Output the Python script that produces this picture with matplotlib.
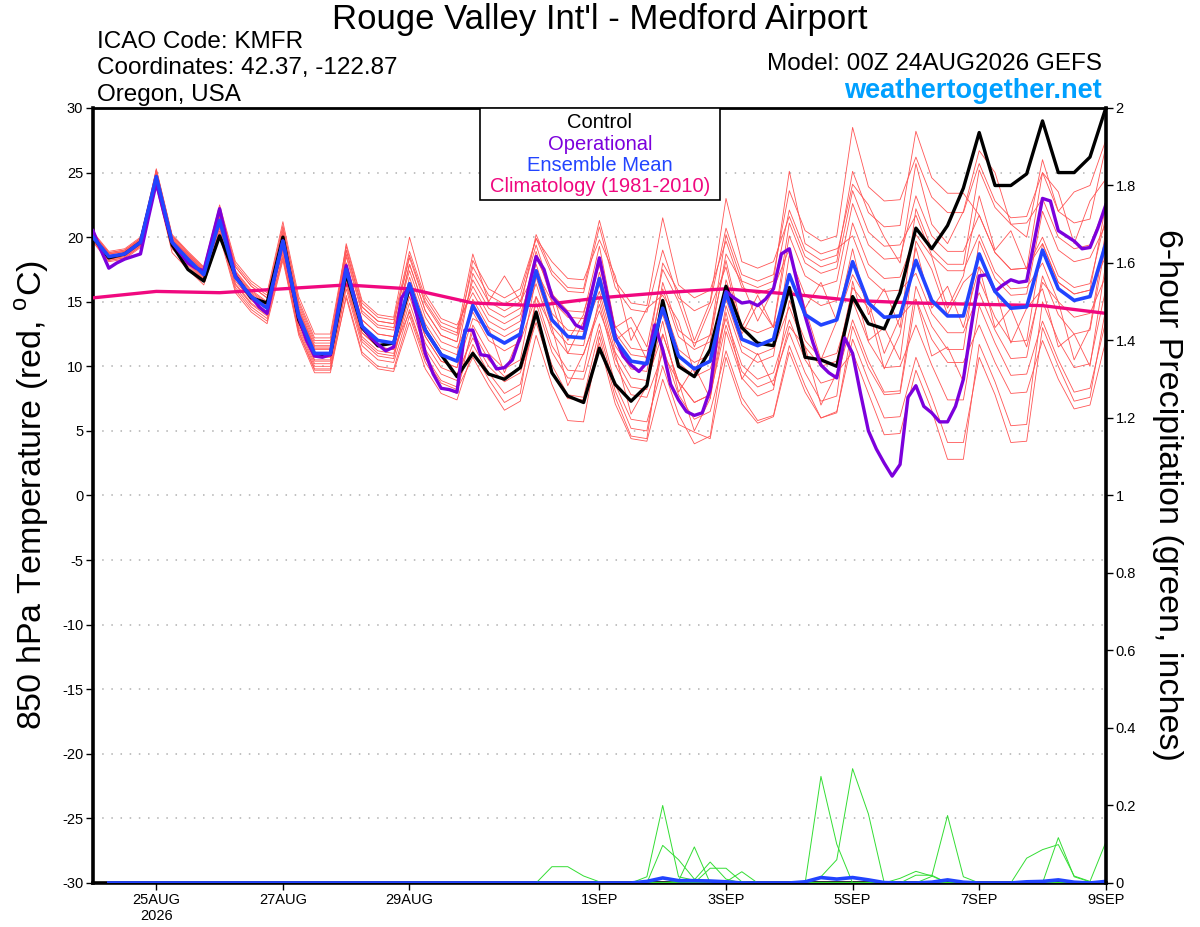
import matplotlib
matplotlib.use("Agg")
import matplotlib.pyplot as plt
from matplotlib.patches import Rectangle
import numpy as np

plt.rcParams['font.family'] = ['Liberation Sans', 'DejaVu Sans']
plt.rcParams['axes.unicode_minus'] = False

# forecast hours from 00Z 24AUG2026
hours = np.arange(0, 385, 6)
hours_oper = np.arange(0, 385, 3)
hours_clim = np.arange(0, 385, 24)
hours_precip = np.arange(6, 385, 6)

tick_hours = [24, 72, 120, 192, 240, 288, 336, 384]
tick_labels = ["25AUG\n2026", "27AUG", "29AUG", "1SEP", "3SEP", "5SEP", "7SEP", "9SEP"]

control = [20.0, 18.4, 18.7, 19.6, 24.5, 19.4, 17.5, 16.6, 20.1, 17.0, 15.3, 14.9,
           20.0, 13.6, 10.9, 10.9, 17.2, 13.0, 11.6, 11.8, 16.1, 12.8, 10.9, 9.2,
           11.0, 9.4, 9.0, 9.9, 14.2, 9.5, 7.7, 7.2, 11.4, 8.6, 7.3, 8.5,
           15.1, 10.0, 9.2, 11.3, 16.2, 13.0, 11.8, 11.6, 16.1, 10.7, 10.5, 10.0,
           15.4, 13.3, 12.9, 15.7, 20.7, 19.1, 20.9, 23.8, 28.1, 24.0, 24.0, 24.9,
           29.0, 25.0, 25.0, 26.2, 30.0]

ens_mean = [20.0, 18.5, 18.7, 19.6, 24.7, 19.6, 18.3, 17.1, 21.3, 16.9, 15.4, 14.5,
            19.7, 13.9, 11.0, 11.0, 17.5, 13.1, 12.0, 11.8, 16.4, 12.8, 10.9, 10.4,
            14.7, 12.5, 11.8, 12.5, 17.4, 13.6, 12.3, 12.2, 16.8, 12.1, 10.4, 10.2,
            14.5, 10.8, 9.8, 10.4, 15.7, 12.1, 11.6, 12.1, 17.1, 14.0, 13.2, 13.6,
            18.1, 14.9, 13.8, 13.9, 18.2, 15.1, 13.9, 13.9, 18.7, 15.8, 14.5, 14.6,
            19.0, 16.0, 15.1, 15.4, 19.5]

operational = [20.5, 19.0, 17.6, 18.0, 18.3, 18.5, 18.7, 21.5,
               24.2, 21.8, 19.6, 18.8, 18.0, 17.6, 17.4, 19.8,
               22.2, 19.5, 17.0, 16.1, 15.4, 14.6, 14.1, 17.0,
               19.7, 16.7, 13.8, 12.0, 10.8, 10.7, 10.9, 14.5,
               17.8, 15.4, 13.1, 12.3, 11.7, 11.2, 11.5, 15.3,
               16.2, 13.8, 11.0, 9.4, 8.3, 8.2, 8.0, 12.8,
               12.8, 10.9, 10.8, 9.8, 9.9, 10.5, 12.3, 15.9,
               18.5, 17.5, 15.4, 14.7, 14.1, 13.2, 12.9, 15.7,
               18.4, 15.5, 12.3, 10.8, 10.1, 9.6, 10.3, 13.2,
               11.3, 8.6, 7.4, 6.5, 6.2, 6.4, 8.2, 13.1,
               15.8, 15.3, 14.9, 15.0, 14.7, 15.2, 16.0, 18.7,
               19.1, 16.5, 13.9, 11.8, 10.1, 9.5, 9.1, 12.2,
               11.0, 7.9, 5.0, 3.6, 2.5, 1.5, 2.4, 7.6,
               8.5, 6.9, 6.4, 5.7, 5.7, 6.9, 9.0, 13.1,
               17.0, 17.1, 15.8, 16.3, 16.7, 16.5, 16.6, 19.8,
               23.0, 22.8, 20.5, 20.1, 19.7, 19.1, 19.2, 20.7,
               22.5]

climatology = [15.3, 15.8, 15.7, 16.0, 16.3, 16.0, 14.9, 14.7, 15.3,
               15.7, 16.0, 15.6, 15.1, 14.9, 14.8, 14.7, 14.1]

# ensemble members, 850 hPa temperature
member_01 = [20.3, 18.8, 19.0, 19.9, 25.2, 20.1, 18.8, 17.6, 22.3, 17.9, 16.4, 15.5,
             20.9, 15.1, 12.2, 12.2, 19.0, 14.6, 13.5, 13.3, 18.4, 14.8, 12.9, 12.4,
             17.7, 15.5, 14.8, 15.5, 19.9, 17.1, 15.8, 15.7, 20.8, 16.1, 14.4, 14.2,
             19.0, 15.3, 14.3, 14.9, 20.7, 17.1, 16.6, 17.1, 23.6, 20.5, 19.7, 20.1,
             28.5, 23.9, 22.8, 22.9, 26.2, 23.1, 21.9, 21.9, 25.7, 22.8, 21.5, 21.6,
             25.0, 22.0, 21.1, 21.4, 27.0]
member_02 = [19.8, 18.3, 18.5, 19.4, 25.0, 19.9, 18.6, 17.4, 21.8, 17.4, 15.9, 15.0,
             19.2, 13.4, 10.5, 10.5, 18.5, 14.1, 13.0, 12.8, 17.9, 14.3, 12.4, 11.9,
             16.7, 14.5, 13.8, 14.5, 20.2, 17.4, 16.1, 16.0, 21.3, 16.6, 14.9, 14.7,
             21.5, 16.3, 15.3, 15.9, 19.7, 16.1, 15.6, 16.1, 22.1, 19.0, 18.2, 18.6,
             24.1, 22.5, 20.0, 18.0, 25.7, 21.0, 19.5, 22.0, 26.7, 25.0, 21.0, 20.0,
             26.0, 22.0, 23.5, 24.0, 27.5]
member_03 = [20.1, 18.6, 18.8, 19.7, 24.4, 19.3, 18.0, 16.8, 20.5, 16.1, 14.6, 13.7,
             18.7, 12.9, 10.0, 10.0, 16.0, 11.6, 10.5, 10.3, 14.4, 10.8, 8.9, 8.4,
             11.7, 9.5, 7.9, 8.6, 13.9, 10.1, 7.8, 7.6, 12.8, 8.1, 5.2, 5.0,
             11.5, 7.8, 5.9, 6.5, 11.2, 7.6, 5.8, 6.2, 11.6, 8.5, 6.0, 6.5,
             12.1, 8.9, 6.0, 6.1, 10.7, 7.6, 4.1, 4.1, 10.7, 7.8, 4.1, 4.2,
             13.0, 10.0, 7.3, 7.6, 14.5]
member_04 = [19.7, 18.2, 18.4, 19.3, 24.2, 19.1, 17.8, 16.6, 21.6, 17.2, 15.7, 14.8,
             20.5, 14.7, 11.8, 11.8, 18.0, 13.6, 12.5, 12.3, 15.9, 12.3, 10.4, 9.9,
             13.7, 13.0, 9.5, 12.5, 18.4, 15.8, 12.0, 14.0, 19.3, 13.0, 13.8, 11.5,
             17.5, 15.0, 11.5, 14.5, 17.7, 12.5, 14.8, 13.0, 20.1, 17.0, 16.2, 16.6,
             22.6, 19.4, 18.3, 18.4, 23.2, 20.1, 18.9, 18.9, 21.7, 18.8, 17.5, 17.6,
             20.0, 17.0, 16.1, 16.4, 21.5]
member_05 = [20.2, 18.7, 18.9, 19.8, 24.9, 19.8, 18.5, 17.3, 21.0, 16.6, 15.1, 14.2,
             19.1, 13.3, 10.4, 10.4, 16.5, 12.1, 11.0, 10.8, 14.9, 11.3, 9.4, 8.9,
             12.7, 10.5, 9.2, 9.9, 14.9, 11.1, 9.1, 9.0, 13.3, 8.6, 5.9, 5.7,
             10.0, 6.3, 4.0, 4.6, 12.7, 9.1, 7.7, 8.2, 15.1, 12.0, 10.6, 11.0,
             15.1, 11.9, 9.9, 10.0, 13.2, 10.1, 7.4, 7.4, 14.7, 11.8, 9.3, 9.4,
             13.5, 10.5, 8.0, 8.3, 13.5]
member_06 = [20.0, 18.5, 18.7, 19.6, 25.3, 20.2, 18.9, 17.7, 22.5, 18.1, 16.6, 15.7,
             21.2, 15.4, 12.5, 12.5, 19.3, 14.9, 13.8, 13.6, 18.9, 15.3, 13.4, 12.9,
             16.2, 14.0, 13.3, 14.0, 17.9, 14.1, 12.8, 12.7, 15.8, 11.1, 9.1, 8.9,
             12.5, 8.8, 7.2, 7.8, 14.7, 11.1, 10.3, 10.8, 18.6, 15.5, 14.7, 15.1,
             21.1, 17.9, 16.8, 16.9, 20.2, 18.5, 14.5, 17.0, 23.2, 19.0, 20.5, 17.5,
             25.0, 23.5, 19.5, 22.8, 24.5]
member_07 = [19.6, 18.1, 18.3, 19.2, 23.9, 18.8, 17.5, 16.3, 20.1, 15.7, 14.2, 13.3,
             18.2, 12.4, 9.5, 9.5, 15.5, 11.1, 10.0, 9.8, 13.9, 10.3, 8.4, 7.9,
             13.2, 11.0, 9.8, 10.5, 16.9, 13.1, 11.7, 11.6, 17.3, 12.6, 10.9, 10.7,
             16.0, 12.3, 11.3, 11.9, 18.7, 16.5, 13.5, 16.0, 19.1, 14.5, 16.5, 13.5,
             17.1, 15.0, 11.0, 13.8, 15.2, 10.8, 11.5, 8.8, 16.7, 13.8, 11.9, 12.0,
             19.5, 16.5, 15.6, 15.9, 22.5]
member_08 = [20.4, 18.9, 19.1, 20.0, 25.1, 20.0, 18.7, 17.5, 22.1, 17.7, 16.2, 15.3,
             20.0, 14.2, 11.3, 11.3, 17.0, 12.6, 11.5, 11.3, 16.9, 13.3, 11.4, 10.9,
             17.2, 15.0, 14.3, 15.0, 19.4, 15.6, 14.3, 14.2, 17.8, 13.1, 11.4, 11.2,
             14.0, 10.3, 9.2, 9.8, 13.7, 10.1, 9.0, 9.5, 13.6, 10.5, 8.7, 9.1,
             13.6, 10.4, 8.0, 8.1, 16.2, 13.1, 11.3, 11.3, 19.7, 16.8, 15.5, 15.6,
             22.0, 19.0, 18.1, 18.4, 21.0]
member_09 = [19.9, 18.4, 18.6, 19.5, 24.5, 19.4, 18.1, 16.9, 20.8, 16.4, 14.9, 14.0,
             20.2, 14.4, 11.5, 11.5, 18.7, 14.3, 13.2, 13.0, 17.4, 13.8, 11.9, 11.4,
             14.2, 12.0, 11.2, 11.9, 15.4, 13.0, 8.5, 11.0, 14.3, 11.0, 6.3, 8.5,
             13.5, 8.0, 10.0, 7.5, 16.7, 13.1, 12.6, 13.1, 21.1, 18.0, 17.2, 17.6,
             23.6, 20.4, 19.3, 19.4, 21.7, 18.6, 17.4, 17.4, 20.2, 17.3, 16.0, 16.1,
             18.0, 15.0, 13.8, 14.1, 17.0]
member_10 = [20.2, 18.7, 18.9, 19.8, 24.7, 19.6, 18.3, 17.1, 21.5, 17.1, 15.6, 14.7,
             19.4, 13.6, 10.7, 10.7, 16.7, 12.3, 11.2, 11.0, 15.4, 11.8, 9.9, 9.4,
             12.2, 10.0, 8.8, 9.5, 13.4, 9.6, 7.5, 7.4, 11.8, 7.1, 4.4, 4.2,
             9.0, 5.5, 4.9, 4.4, 10.7, 7.1, 5.6, 6.1, 11.1, 8.0, 6.0, 6.4,
             13.1, 9.9, 7.8, 7.9, 15.2, 12.1, 10.3, 10.3, 13.2, 10.3, 7.9, 8.0,
             12.0, 9.0, 6.7, 7.0, 12.0]
member_11 = [19.8, 18.3, 18.5, 19.4, 25.2, 20.1, 18.8, 17.6, 22.1, 17.7, 16.2, 15.3,
             20.7, 14.9, 12.0, 12.0, 18.0, 13.6, 12.5, 12.3, 17.9, 14.3, 12.4, 11.9,
             18.2, 16.0, 15.3, 16.0, 19.9, 18.1, 16.8, 16.7, 19.8, 17.0, 12.0, 14.5,
             15.5, 13.5, 9.5, 12.5, 18.2, 13.0, 15.5, 13.0, 16.1, 14.5, 10.5, 13.5,
             19.1, 14.0, 16.0, 13.0, 22.2, 19.1, 17.9, 17.9, 25.2, 22.3, 21.0, 21.1,
             23.0, 20.0, 19.1, 19.4, 22.5]
member_12 = [20.3, 18.8, 19.0, 19.9, 24.3, 19.2, 17.9, 16.7, 20.3, 15.9, 14.4, 13.5,
             18.4, 12.6, 9.7, 9.7, 16.3, 11.9, 10.8, 10.6, 15.9, 12.3, 10.4, 9.9,
             15.2, 13.0, 12.3, 13.0, 16.4, 12.6, 11.0, 10.9, 14.8, 10.1, 7.8, 7.6,
             11.0, 8.8, 5.0, 7.5, 14.2, 9.0, 11.0, 8.5, 13.1, 11.5, 7.0, 9.5,
             11.1, 7.9, 4.7, 4.8, 9.7, 6.6, 2.8, 2.8, 11.7, 8.8, 5.4, 5.5,
             15.0, 12.0, 9.9, 10.2, 16.0]
member_13 = [20.0, 18.5, 18.7, 19.6, 24.9, 19.8, 18.5, 17.3, 21.7, 17.3, 15.8, 14.9,
             20.3, 14.5, 11.6, 11.6, 19.5, 15.1, 14.0, 13.8, 20.0, 15.6, 13.7, 13.2,
             15.7, 13.5, 12.8, 13.5, 18.9, 15.1, 13.8, 13.7, 16.3, 11.6, 9.8, 9.6,
             16.5, 12.8, 11.8, 12.4, 20.2, 16.6, 16.1, 16.6, 25.1, 19.5, 18.7, 19.1,
             20.1, 16.9, 15.8, 15.9, 17.2, 14.1, 12.6, 12.6, 15.7, 12.8, 10.6, 10.7,
             17.0, 14.0, 12.5, 12.8, 19.5]
member_14 = [19.7, 18.2, 18.4, 19.3, 24.6, 19.5, 18.2, 17.0, 20.7, 16.3, 14.8, 13.9,
             18.5, 12.7, 9.8, 9.8, 15.3, 10.9, 9.8, 9.6, 13.4, 9.8, 7.9, 7.4,
             11.2, 9.0, 7.2, 7.9, 15.4, 11.6, 9.7, 9.6, 15.3, 10.6, 8.4, 8.2,
             15.0, 11.3, 10.3, 10.9, 15.2, 11.6, 10.9, 11.4, 14.6, 11.5, 10.0, 10.4,
             16.1, 14.5, 9.8, 12.5, 19.2, 14.5, 16.2, 13.0, 17.7, 16.0, 11.8, 14.5,
             16.0, 11.5, 12.5, 10.0, 18.0]
member_15 = [20.2, 18.7, 18.9, 19.8, 25.0, 19.9, 18.6, 17.4, 21.2, 16.8, 15.3, 14.4,
             18.9, 13.1, 10.2, 10.2, 17.0, 12.6, 11.5, 11.3, 14.2, 10.6, 8.7, 8.2,
             10.7, 8.5, 6.6, 7.3, 12.4, 8.6, 5.8, 5.7, 12.3, 7.6, 4.6, 4.4,
             12.5, 8.8, 7.2, 7.8, 13.2, 9.6, 8.4, 8.9, 12.6, 9.5, 7.3, 7.7,
             16.6, 12.0, 13.0, 10.5, 19.7, 17.5, 14.0, 16.5, 17.7, 13.0, 14.5, 11.5,
             16.5, 15.0, 10.5, 13.0, 20.5]
member_16 = [20.0, 18.5, 18.7, 19.6, 24.5, 19.4, 18.1, 16.9, 21.4, 17.0, 15.5, 14.6,
             20.1, 14.3, 11.4, 11.4, 19.0, 14.6, 13.5, 13.3, 18.6, 15.0, 13.1, 12.6,
             18.7, 15.0, 17.0, 15.0, 17.4, 15.0, 11.0, 13.5, 18.3, 12.0, 13.0, 10.5,
             18.0, 15.8, 12.0, 15.0, 23.0, 18.1, 17.6, 18.1, 21.6, 18.5, 17.7, 18.1,
             25.1, 21.9, 20.8, 20.9, 28.2, 24.6, 23.4, 23.4, 21.7, 18.8, 17.5, 17.6,
             19.5, 16.5, 15.6, 15.9, 18.5]

members = [member_01, member_02, member_03, member_04, member_05, member_06,
           member_07, member_08, member_09, member_10, member_11, member_12,
           member_13, member_14, member_15, member_16]

# 6-hour precipitation (inches), steps 06Z 24AUG .. 00Z 9SEP
precip_mean = [0, 0, 0, 0, 0, 0, 0, 0, 0, 0, 0, 0, 0, 0, 0, 0,
               0, 0, 0, 0, 0, 0, 0, 0, 0, 0, 0, 0, 0, 0, 0, 0,
               0, 0, 0.004, 0.013, 0.006, 0.006, 0.005, 0.003, 0, 0, 0, 0, 0.003, 0.014, 0.010, 0.014,
               0.008, 0.001, 0, 0, 0.002, 0.008, 0.002, 0, 0, 0, 0.003, 0.004, 0.008, 0.002, 0, 0.004]

precip_a = [0, 0, 0, 0, 0, 0, 0, 0, 0, 0, 0, 0, 0, 0, 0, 0,
            0, 0, 0, 0, 0, 0, 0, 0, 0, 0, 0, 0, 0.042, 0.042, 0.018, 0.003,
            0, 0, 0, 0, 0, 0, 0, 0, 0, 0, 0, 0, 0, 0, 0, 0,
            0, 0, 0, 0, 0, 0, 0, 0, 0, 0, 0, 0, 0, 0, 0, 0]
precip_b = [0, 0, 0, 0, 0, 0, 0, 0, 0, 0, 0, 0, 0, 0, 0, 0,
            0, 0, 0, 0, 0, 0, 0, 0, 0, 0, 0, 0, 0, 0, 0, 0,
            0, 0, 0.016, 0.200, 0.016, 0.007, 0, 0, 0, 0, 0, 0, 0, 0, 0, 0,
            0, 0, 0, 0, 0, 0, 0, 0, 0, 0, 0, 0, 0, 0, 0, 0]
precip_c = [0, 0, 0, 0, 0, 0, 0, 0, 0, 0, 0, 0, 0, 0, 0, 0,
            0, 0, 0, 0, 0, 0, 0, 0, 0, 0, 0, 0, 0, 0, 0, 0,
            0, 0, 0, 0.097, 0.060, 0.010, 0, 0, 0, 0, 0, 0, 0, 0, 0, 0,
            0, 0, 0, 0, 0, 0, 0, 0, 0, 0, 0, 0, 0, 0, 0, 0]
precip_d = [0, 0, 0, 0, 0, 0, 0, 0, 0, 0, 0, 0, 0, 0, 0, 0,
            0, 0, 0, 0, 0, 0, 0, 0, 0, 0, 0, 0, 0, 0, 0, 0,
            0, 0, 0, 0, 0.005, 0.093, 0, 0, 0, 0, 0, 0, 0, 0, 0, 0,
            0, 0, 0, 0, 0, 0, 0, 0, 0, 0, 0, 0, 0, 0, 0, 0]
precip_e = [0, 0, 0, 0, 0, 0, 0, 0, 0, 0, 0, 0, 0, 0, 0, 0,
            0, 0, 0, 0, 0, 0, 0, 0, 0, 0, 0, 0, 0, 0, 0, 0,
            0, 0, 0, 0, 0, 0.008, 0.054, 0.010, 0, 0, 0, 0, 0, 0, 0, 0,
            0, 0, 0, 0, 0, 0, 0, 0, 0, 0, 0, 0, 0, 0, 0, 0]
precip_f = [0, 0, 0, 0, 0, 0, 0, 0, 0, 0, 0, 0, 0, 0, 0, 0,
            0, 0, 0, 0, 0, 0, 0, 0, 0, 0, 0, 0, 0, 0, 0, 0,
            0, 0, 0, 0, 0, 0, 0.038, 0.038, 0.003, 0, 0, 0, 0, 0, 0, 0,
            0, 0, 0, 0, 0, 0, 0, 0, 0, 0, 0, 0, 0, 0, 0, 0]
precip_g = [0, 0, 0, 0, 0, 0, 0, 0, 0, 0, 0, 0, 0, 0, 0, 0,
            0, 0, 0, 0, 0, 0, 0, 0, 0, 0, 0, 0, 0, 0, 0, 0,
            0, 0, 0, 0, 0, 0, 0, 0.003, 0.029, 0, 0, 0, 0, 0, 0, 0,
            0, 0, 0, 0, 0, 0, 0, 0, 0, 0, 0, 0, 0, 0, 0, 0]
precip_h = [0, 0, 0, 0, 0, 0, 0, 0, 0, 0, 0, 0, 0, 0, 0, 0,
            0, 0, 0, 0, 0, 0, 0, 0, 0, 0, 0, 0, 0, 0, 0, 0,
            0, 0, 0, 0, 0, 0, 0, 0, 0, 0, 0, 0, 0, 0.275, 0.100, 0,
            0, 0, 0, 0, 0, 0, 0, 0, 0, 0, 0, 0, 0, 0, 0, 0]
precip_i = [0, 0, 0, 0, 0, 0, 0, 0, 0, 0, 0, 0, 0, 0, 0, 0,
            0, 0, 0, 0, 0, 0, 0, 0, 0, 0, 0, 0, 0, 0, 0, 0,
            0, 0, 0, 0, 0, 0, 0, 0, 0, 0, 0, 0, 0, 0.016, 0.060, 0.295,
            0.178, 0, 0, 0, 0, 0, 0, 0, 0, 0, 0, 0, 0, 0, 0, 0]
precip_j = [0, 0, 0, 0, 0, 0, 0, 0, 0, 0, 0, 0, 0, 0, 0, 0,
            0, 0, 0, 0, 0, 0, 0, 0, 0, 0, 0, 0, 0, 0, 0, 0,
            0, 0, 0, 0, 0, 0, 0, 0, 0, 0, 0, 0, 0, 0, 0, 0,
            0, 0, 0.012, 0.030, 0.018, 0, 0, 0, 0, 0, 0, 0, 0, 0, 0, 0]
precip_k = [0, 0, 0, 0, 0, 0, 0, 0, 0, 0, 0, 0, 0, 0, 0, 0,
            0, 0, 0, 0, 0, 0, 0, 0, 0, 0, 0, 0, 0, 0, 0, 0,
            0, 0, 0, 0, 0, 0, 0, 0, 0, 0, 0, 0, 0, 0, 0, 0,
            0, 0, 0, 0, 0.017, 0.174, 0.016, 0, 0, 0, 0, 0, 0, 0, 0, 0]
precip_l = [0, 0, 0, 0, 0, 0, 0, 0, 0, 0, 0, 0, 0, 0, 0, 0,
            0, 0, 0, 0, 0, 0, 0, 0, 0, 0, 0, 0, 0, 0, 0, 0,
            0, 0, 0, 0, 0, 0, 0, 0, 0, 0, 0, 0, 0, 0, 0, 0,
            0, 0, 0, 0.020, 0.020, 0, 0, 0, 0, 0, 0, 0, 0, 0, 0, 0]
precip_m = [0, 0, 0, 0, 0, 0, 0, 0, 0, 0, 0, 0, 0, 0, 0, 0,
            0, 0, 0, 0, 0, 0, 0, 0, 0, 0, 0, 0, 0, 0, 0, 0,
            0, 0, 0, 0, 0, 0, 0, 0, 0, 0, 0, 0, 0, 0, 0, 0,
            0, 0, 0, 0, 0, 0, 0, 0, 0, 0, 0.064, 0.086, 0.099, 0.018, 0.004, 0.105]
precip_n = [0, 0, 0, 0, 0, 0, 0, 0, 0, 0, 0, 0, 0, 0, 0, 0,
            0, 0, 0, 0, 0, 0, 0, 0, 0, 0, 0, 0, 0, 0, 0, 0,
            0, 0, 0, 0, 0, 0, 0, 0, 0, 0, 0, 0, 0, 0, 0, 0,
            0, 0, 0, 0, 0, 0, 0, 0, 0, 0, 0, 0, 0.117, 0.016, 0.003, 0]

precip_members = [precip_a, precip_b, precip_c, precip_d, precip_e, precip_f, precip_g,
                  precip_h, precip_i, precip_j, precip_k, precip_l, precip_m, precip_n]

fig = plt.figure(figsize=(12, 9.27), dpi=100)
ax = fig.add_axes([0.0775, 0.0475, 0.844, 0.836])
ax2 = ax.twinx()

for v in range(-25, 30, 5):
    ax.axhline(v, color="#b0b0b0", lw=1.1, ls=(0, (1, 5)), zorder=0.5)

for m in members:
    ax.plot(hours, m, color="#ff5555", lw=0.6, zorder=2)

ax.plot(hours_clim, climatology, color="#f0087f", lw=2.4, zorder=3)
ax.plot(hours, control, color="black", lw=2.4, zorder=4)
ax.plot(hours_oper, operational, color="#7c00dc", lw=2.4, zorder=5)
ax.plot(hours, ens_mean, color="#2244ff", lw=2.6, zorder=6)

for p in precip_members:
    ax2.plot(hours_precip, p, color="#33dd33", lw=0.7)
ax2.plot(hours_precip, precip_mean, color="#2244ff", lw=2.6)

ax.set_xlim(0, 384)
ax.set_ylim(-30, 30)
ax2.set_ylim(0, 2)

ax.set_yticks(range(-30, 31, 5))
ax.set_xticks(tick_hours)
ax.set_xticklabels(tick_labels)
ax2.set_yticks(np.arange(0, 2.01, 0.2))
ax2.set_yticklabels(["0", "0.2", "0.4", "0.6", "0.8", "1", "1.2", "1.4", "1.6", "1.8", "2"])

ax.tick_params(axis="both", labelsize=10.5, length=5, width=1, direction="out", pad=2)
ax2.tick_params(axis="y", labelsize=10.5, length=5, width=1, direction="out", pad=2)

for s in ["left", "bottom"]:
    ax.spines[s].set_linewidth(2.6)
ax.spines["top"].set_linewidth(2.0)
ax.spines["right"].set_visible(False)
for s in ["left", "bottom", "top"]:
    ax2.spines[s].set_visible(False)
ax2.spines["right"].set_linewidth(2.6)

# legend box
ax2.add_patch(Rectangle((0.382, 0.881), 0.237, 0.119, transform=ax2.transAxes,
                        facecolor="white", edgecolor="black", lw=1.2, zorder=10))
legend_items = [("Control", "black"), ("Operational", "#7c00dc"),
                ("Ensemble Mean", "#2244ff"), ("Climatology (1981-2010)", "#f0087f")]
for k, (txt, col) in enumerate(legend_items):
    ax2.text(0.5005, 0.981 - k * 0.0275, txt, color=col, fontsize=14.5,
             ha="center", va="center", transform=ax2.transAxes, zorder=11)

fig.text(0.5, 0.979, "Rouge Valley Int'l - Medford Airport", fontsize=25,
         ha="center", va="center")
fig.text(0.081, 0.955, "ICAO Code: KMFR", fontsize=17.5, ha="left", va="center")
fig.text(0.081, 0.927, "Coordinates: 42.37, -122.87", fontsize=17.5, ha="left", va="center")
fig.text(0.081, 0.898, "Oregon, USA", fontsize=17.5, ha="left", va="center")
fig.text(0.918, 0.931, "Model: 00Z 24AUG2026 GEFS", fontsize=17.5, ha="right", va="center")
fig.text(0.918, 0.902, "weathertogether.net", fontsize=19.5, fontweight="bold",
         color="#00a0ff", ha="right", va="center")

fig.text(32 / 1200, 0.466, "850 hPa Temperature (red, $^{\\mathregular{o}}$C)", fontsize=24.5,
         rotation=90, ha="center", va="center")
fig.text(1168 / 1200, 0.466, "6-hour Precipitation (green, inches)", fontsize=24.5,
         rotation=270, ha="center", va="center")

fig.savefig("out.png", dpi=100)
